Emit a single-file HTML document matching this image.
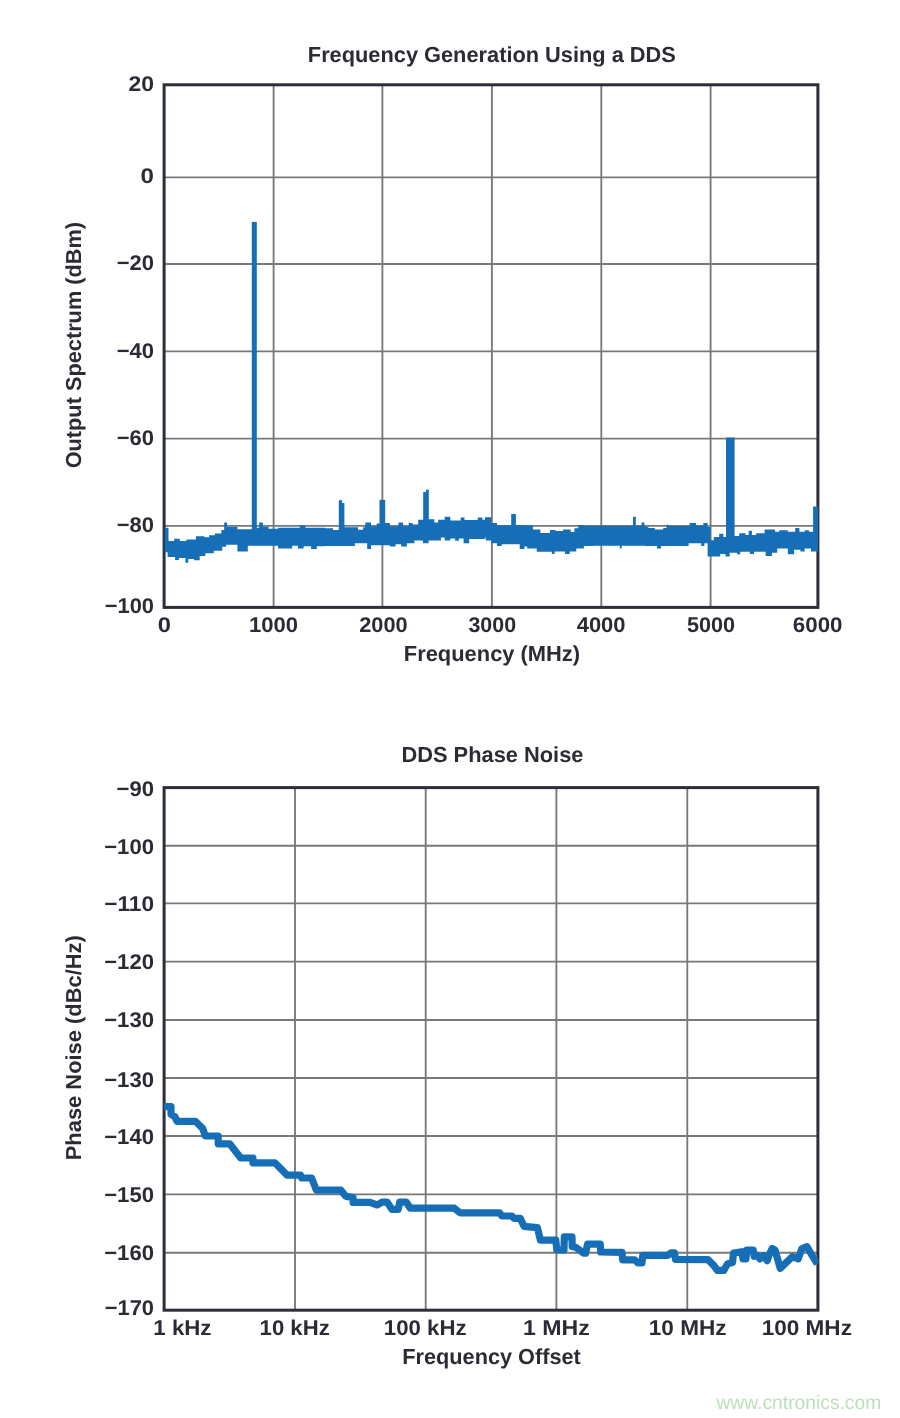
<!DOCTYPE html>
<html lang="en">
<head>
<meta charset="utf-8">
<title>DDS Frequency Generation and Phase Noise</title>
<style>
  html, body { margin: 0; padding: 0; background: #ffffff; }
  body { width: 900px; height: 1418px; overflow: hidden; }
  svg { display: block; }
  text { font-family: "Liberation Sans", sans-serif; font-weight: bold; fill: #2b2b36; text-rendering: geometricPrecision; }
  .tick text { font-size: 21.3px; }
  .title { font-size: 21.7px; }
  .axis { font-size: 21.7px; }
  .grid line { stroke: #787878; stroke-width: 1.85; }
  .frame rect { fill: none; stroke: #2e2e38; stroke-width: 3.0; }
  .wm { font-weight: normal; font-size: 19.5px; fill: #bcdfb9; }
</style>
</head>
<body>
<svg width="900" height="1418" viewBox="0 0 900 1418">
<rect x="0" y="0" width="900" height="1418" fill="#ffffff"/>
<defs>
<clipPath id="clipT"><rect x="164.0" y="86" width="654.5" height="520"/></clipPath>
<clipPath id="clipB"><rect x="164.0" y="789" width="654.5" height="520"/></clipPath>
</defs>

<!-- ===== Chart 1: Frequency Generation Using a DDS ===== -->
<text class="title" x="307.84" y="61.60" textLength="368.01" lengthAdjust="spacingAndGlyphs">Frequency Generation Using a DDS</text>
<g class="grid">
<line x1="273.6" y1="84.8" x2="273.6" y2="607.4"/>
<line x1="382.4" y1="84.8" x2="382.4" y2="607.4"/>
<line x1="491.9" y1="84.8" x2="491.9" y2="607.4"/>
<line x1="601.3" y1="84.8" x2="601.3" y2="607.4"/>
<line x1="710.6" y1="84.8" x2="710.6" y2="607.4"/>
<line x1="164.1" y1="177.3" x2="817.9" y2="177.3"/>
<line x1="164.1" y1="264.0" x2="817.9" y2="264.0"/>
<line x1="164.1" y1="351.3" x2="817.9" y2="351.3"/>
<line x1="164.1" y1="438.6" x2="817.9" y2="438.6"/>
<line x1="164.1" y1="525.9" x2="817.9" y2="525.9"/>
</g>
<g class="frame"><rect x="164.1" y="84.8" width="653.8" height="522.6"/></g>
<g fill="#166fb6" clip-path="url(#clipT)">
<path d="M164.7 527.8 L168.5 527.8 L168.5 541.0 L174.2 541.0 L174.2 538.7 L179.8 538.7 L179.8 541.0 L186.4 541.0 L186.4 539.5 L195.9 539.5 L195.9 536.3 L204.4 536.3 L204.4 537.2 L209.1 537.2 L209.1 535.3 L214.8 535.3 L214.8 533.4 L221.4 533.4 L221.4 530.0 L224.2 530.0 L224.2 522.5 L227.1 522.5 L227.1 526.8 L237.4 526.8 L237.4 529.3 L256.7 529.3 L256.7 527.8 L259.2 527.8 L259.2 522.5 L262.9 522.5 L262.9 526.8 L268.6 526.8 L268.6 528.7 L278.1 528.7 L278.1 527.8 L299.8 527.8 L299.8 525.5 L305.4 525.5 L305.4 527.8 L324.9 527.8 L324.9 528.2 L333.0 528.2 L333.0 530.1 L338.9 530.1 L338.9 527.2 L358.0 527.2 L358.0 529.7 L363.1 529.7 L363.1 527.2 L365.3 527.2 L365.3 522.5 L371.0 522.5 L371.0 526.3 L376.7 526.3 L376.7 523.4 L385.2 523.4 L385.2 523.1 L389.9 523.1 L389.9 526.3 L398.4 526.3 L398.4 522.5 L403.1 522.5 L403.1 526.3 L408.8 526.3 L408.8 523.1 L412.6 523.1 L412.6 524.4 L418.2 524.4 L418.2 519.7 L428.6 519.7 L428.6 519.3 L434.3 519.3 L434.3 522.5 L438.1 522.5 L438.1 519.7 L444.7 519.7 L444.7 516.8 L450.3 516.8 L450.3 520.6 L460.7 520.6 L460.7 517.4 L464.5 517.4 L464.5 520.0 L477.7 520.0 L477.7 517.4 L482.4 517.4 L482.4 519.7 L484.9 519.7 L484.9 517.2 L491.3 517.2 L491.3 523.1 L497.0 523.1 L497.0 525.3 L532.9 525.3 L532.9 529.5 L540.4 529.5 L540.4 532.9 L549.9 532.9 L549.9 530.1 L555.6 530.1 L555.6 531.0 L563.1 531.0 L563.1 529.5 L570.7 529.5 L570.7 531.9 L574.4 531.9 L574.4 528.2 L578.2 528.2 L578.2 525.0 L583.9 525.0 L583.9 525.7 L641.5 525.7 L641.5 522.5 L644.3 522.5 L644.3 525.3 L644.9 525.3 L645.1 526.4 L648.4 526.4 L648.4 528.1 L654.8 528.1 L654.8 529.6 L663.2 529.6 L663.2 528.1 L666.4 528.1 L666.4 524.8 L668.5 524.8 L668.5 526.0 L689.6 526.0 L689.6 522.9 L695.9 522.9 L695.9 525.4 L703.3 525.4 L703.3 522.9 L707.6 522.9 L707.6 526.9 L710.7 526.9 L710.7 540.2 L713.9 540.2 L713.9 537.0 L719.2 537.0 L719.2 533.8 L723.4 533.8 L723.4 537.0 L733.9 537.0 L733.9 535.9 L739.2 535.9 L739.2 533.2 L745.6 533.2 L745.6 534.9 L748.7 534.9 L748.7 530.7 L751.9 530.7 L751.9 534.9 L756.1 534.9 L756.1 533.2 L764.6 533.2 L764.6 529.6 L775.1 529.6 L775.1 531.7 L779.3 531.7 L779.3 530.2 L787.8 530.2 L787.8 531.7 L795.2 531.7 L795.2 528.1 L799.4 528.1 L799.4 531.7 L804.7 531.7 L804.7 530.2 L808.9 530.2 L808.9 531.7 L813.1 531.7 L813.1 506.4 L818.4 506.4 L818.4 551.4 L811.0 551.4 L811.0 548.6 L804.7 548.6 L804.7 551.4 L800.4 551.4 L800.4 549.7 L794.1 549.7 L794.1 554.3 L787.8 554.3 L787.8 548.6 L777.2 548.6 L777.2 552.8 L771.9 552.8 L771.9 556.0 L765.6 556.0 L765.6 551.8 L754.0 551.8 L754.0 553.9 L749.8 553.9 L749.8 551.8 L740.3 551.8 L740.3 554.3 L737.1 554.3 L737.1 552.8 L729.7 552.8 L729.7 556.4 L725.5 556.4 L725.5 553.9 L720.2 553.9 L720.2 556.4 L707.6 556.4 L707.6 543.3 L704.4 543.3 L704.4 545.9 L701.2 545.9 L701.2 543.3 L688.6 543.3 L688.6 545.9 L661.1 545.9 L661.1 548.6 L656.9 548.6 L656.9 545.9 L645.1 545.9 L644.9 545.7 L621.7 545.7 L621.7 548.4 L619.8 548.4 L619.8 545.7 L593.3 545.7 L593.3 546.1 L583.9 546.1 L583.9 548.4 L576.3 548.4 L576.3 551.4 L569.7 551.4 L569.7 554.0 L565.0 554.0 L565.0 551.4 L554.6 551.4 L554.6 554.0 L551.8 554.0 L551.8 551.8 L536.7 551.8 L536.7 548.4 L527.2 548.4 L527.2 546.5 L524.4 546.5 L524.4 548.9 L519.7 548.9 L519.7 544.2 L501.7 544.2 L501.7 546.1 L497.0 546.1 L497.0 543.3 L491.3 543.3 L491.3 540.4 L485.7 540.4 L485.7 537.6 L484.9 537.6 L484.9 538.9 L469.2 538.9 L469.2 543.3 L463.6 543.3 L463.6 538.6 L458.8 538.6 L458.8 540.8 L455.1 540.8 L455.1 538.6 L450.3 538.6 L450.3 540.4 L444.7 540.4 L444.7 537.6 L440.9 537.6 L440.9 540.4 L428.6 540.4 L428.6 543.3 L422.9 543.3 L422.9 540.4 L414.4 540.4 L414.4 543.3 L406.9 543.3 L406.9 546.5 L401.2 546.5 L401.2 544.2 L395.6 544.2 L395.6 546.5 L389.9 546.5 L389.9 545.2 L371.0 545.2 L371.0 548.9 L367.2 548.9 L367.2 543.3 L354.9 543.3 L354.9 546.1 L324.9 546.1 L324.9 546.3 L316.8 546.3 L316.8 548.9 L311.1 548.9 L311.1 546.3 L303.6 546.3 L303.6 548.6 L297.9 548.6 L297.9 545.7 L292.2 545.7 L292.2 548.6 L278.1 548.6 L278.1 545.7 L247.8 545.7 L247.8 551.4 L237.4 551.4 L237.4 544.8 L226.1 544.8 L226.1 546.7 L222.3 546.7 L222.3 550.8 L213.8 550.8 L213.8 553.3 L205.3 553.3 L205.3 556.1 L199.7 556.1 L199.7 560.3 L194.0 560.3 L194.0 558.9 L188.3 558.9 L188.3 562.7 L185.5 562.7 L185.5 558.0 L178.9 558.0 L178.9 559.9 L175.1 559.9 L175.1 557.1 L167.6 557.1 L167.6 552.3 L164.7 552.3 Z"/>
<rect x="251.8" y="221.9" width="5.0" height="318.1"/>
<rect x="338.8" y="500.2" width="3.2" height="39.8"/>
<rect x="342.0" y="503.0" width="2.4" height="37.0"/>
<rect x="379.5" y="499.8" width="5.7" height="40.2"/>
<rect x="423.2" y="492.0" width="2.8" height="48.0"/>
<rect x="426.0" y="489.6" width="2.8" height="50.4"/>
<rect x="511.2" y="514.0" width="4.7" height="26.0"/>
<rect x="633.0" y="516.8" width="2.8" height="23.2"/>
<rect x="726.0" y="437.5" width="8.6" height="102.5"/>
</g>
<g class="tick">
<text x="128.50" y="91.15" textLength="25.54" lengthAdjust="spacingAndGlyphs">20</text>
<text x="140.64" y="182.75" textLength="13.45" lengthAdjust="spacingAndGlyphs">0</text>
<text x="116.69" y="270.25" textLength="37.32" lengthAdjust="spacingAndGlyphs">−20</text>
<text x="116.69" y="358.25" textLength="37.32" lengthAdjust="spacingAndGlyphs">−40</text>
<text x="116.69" y="445.05" textLength="37.32" lengthAdjust="spacingAndGlyphs">−60</text>
<text x="116.69" y="532.15" textLength="37.32" lengthAdjust="spacingAndGlyphs">−80</text>
<text x="104.69" y="612.65" textLength="49.31" lengthAdjust="spacingAndGlyphs">−100</text>
<text x="157.76" y="631.70" textLength="13.21" lengthAdjust="spacingAndGlyphs">0</text>
<text x="249.01" y="631.70" textLength="49.10" lengthAdjust="spacingAndGlyphs">1000</text>
<text x="359.24" y="631.70" textLength="48.45" lengthAdjust="spacingAndGlyphs">2000</text>
<text x="468.41" y="631.70" textLength="47.67" lengthAdjust="spacingAndGlyphs">3000</text>
<text x="576.67" y="631.70" textLength="48.94" lengthAdjust="spacingAndGlyphs">4000</text>
<text x="687.03" y="631.70" textLength="48.15" lengthAdjust="spacingAndGlyphs">5000</text>
<text x="792.78" y="631.70" textLength="49.74" lengthAdjust="spacingAndGlyphs">6000</text>
</g>
<text class="axis" x="403.84" y="660.70" textLength="176.25" lengthAdjust="spacingAndGlyphs">Frequency (MHz)</text>
<text class="axis" transform="translate(80.90 467.50) rotate(-90)" x="-0.89" y="0" textLength="246.48" lengthAdjust="spacingAndGlyphs">Output Spectrum (dBm)</text>

<!-- ===== Chart 2: DDS Phase Noise ===== -->
<text class="title" x="401.44" y="761.70" textLength="182.01" lengthAdjust="spacingAndGlyphs">DDS Phase Noise</text>
<g class="grid">
<line x1="295.0" y1="787.6" x2="295.0" y2="1310.2"/>
<line x1="425.7" y1="787.6" x2="425.7" y2="1310.2"/>
<line x1="556.4" y1="787.6" x2="556.4" y2="1310.2"/>
<line x1="687.3" y1="787.6" x2="687.3" y2="1310.2"/>
<line x1="164.1" y1="845.7" x2="817.9" y2="845.7"/>
<line x1="164.1" y1="903.3" x2="817.9" y2="903.3"/>
<line x1="164.1" y1="961.6" x2="817.9" y2="961.6"/>
<line x1="164.1" y1="1020.0" x2="817.9" y2="1020.0"/>
<line x1="164.1" y1="1078.0" x2="817.9" y2="1078.0"/>
<line x1="164.1" y1="1136.0" x2="817.9" y2="1136.0"/>
<line x1="164.1" y1="1194.4" x2="817.9" y2="1194.4"/>
<line x1="164.1" y1="1252.7" x2="817.9" y2="1252.7"/>
</g>
<g class="frame"><rect x="164.1" y="787.6" width="653.8" height="522.6"/></g>
<path d="M162.0 1106.6 L171.0 1106.6 L171.0 1114.4 L174.7 1116.4 L177.1 1121.3 L195.4 1121.3 L202.8 1128.6 L205.2 1136.0 L218.2 1136.0 L218.2 1143.8 L229.7 1143.8 L240.7 1158.0 L252.9 1158.0 L252.9 1162.8 L274.9 1162.8 L287.1 1175.1 L300.6 1175.1 L301.8 1178.0 L311.6 1178.0 L316.4 1190.2 L340.9 1190.2 L345.8 1196.3 L353.1 1197.6 L353.1 1202.4 L370.0 1202.4 L377.3 1205.0 L382.2 1202.1 L387.1 1202.1 L392.0 1209.4 L398.1 1209.4 L399.8 1202.1 L406.2 1202.1 L410.3 1208.2 L454.3 1208.2 L460.0 1212.8 L499.6 1212.8 L502.0 1216.0 L511.8 1216.0 L514.2 1218.4 L520.3 1218.4 L524.0 1226.3 L537.4 1227.7 L540.4 1240.2 L555.8 1240.2 L556.8 1250.0 L564.0 1250.0 L564.3 1236.9 L572.0 1236.9 L572.2 1246.6 L576.2 1247.5 L583.6 1253.1 L585.6 1253.1 L587.6 1244.2 L600.2 1244.2 L600.7 1252.0 L621.9 1252.4 L622.7 1259.8 L634.7 1259.8 L638.0 1263.0 L642.0 1263.0 L642.8 1255.3 L667.8 1255.3 L671.0 1252.9 L674.5 1252.9 L675.5 1259.4 L707.9 1259.6 L713.7 1265.4 L717.3 1270.4 L723.8 1270.4 L727.4 1263.9 L732.5 1262.5 L733.5 1253.1 L741.9 1251.7 L743.0 1258.9 L745.9 1258.9 L746.9 1250.2 L753.2 1250.2 L754.2 1256.3 L757.8 1255.4 L759.9 1258.9 L763.6 1255.7 L767.2 1260.6 L769.3 1254.6 L772.2 1248.5 L775.1 1250.2 L780.2 1268.3 L792.4 1256.7 L798.2 1258.9 L801.8 1248.8 L806.9 1246.6 L809.8 1251.7 L817.3 1263.9" fill="none" stroke="#166fb6" stroke-width="7.2" stroke-linejoin="round" stroke-linecap="butt" clip-path="url(#clipB)"/>
<g class="tick">
<text x="116.48" y="795.55" textLength="37.53" lengthAdjust="spacingAndGlyphs">−90</text>
<text x="104.18" y="854.15" textLength="49.83" lengthAdjust="spacingAndGlyphs">−100</text>
<text x="104.18" y="911.25" textLength="49.83" lengthAdjust="spacingAndGlyphs">−110</text>
<text x="104.18" y="968.65" textLength="49.83" lengthAdjust="spacingAndGlyphs">−120</text>
<text x="104.18" y="1027.45" textLength="49.83" lengthAdjust="spacingAndGlyphs">−130</text>
<text x="104.18" y="1086.95" textLength="49.83" lengthAdjust="spacingAndGlyphs">−130</text>
<text x="104.18" y="1144.15" textLength="49.83" lengthAdjust="spacingAndGlyphs">−140</text>
<text x="104.18" y="1202.15" textLength="49.83" lengthAdjust="spacingAndGlyphs">−150</text>
<text x="104.18" y="1260.15" textLength="49.83" lengthAdjust="spacingAndGlyphs">−160</text>
<text x="104.69" y="1314.75" textLength="49.31" lengthAdjust="spacingAndGlyphs">−170</text>
<text x="153.30" y="1334.80" textLength="58.21" lengthAdjust="spacingAndGlyphs">1 kHz</text>
<text x="259.61" y="1334.80" textLength="70.09" lengthAdjust="spacingAndGlyphs">10 kHz</text>
<text x="383.80" y="1334.80" textLength="82.80" lengthAdjust="spacingAndGlyphs">100 kHz</text>
<text x="522.94" y="1334.80" textLength="66.79" lengthAdjust="spacingAndGlyphs">1 MHz</text>
<text x="648.78" y="1334.80" textLength="77.84" lengthAdjust="spacingAndGlyphs">10 MHz</text>
<text x="761.68" y="1334.80" textLength="90.24" lengthAdjust="spacingAndGlyphs">100 MHz</text>
</g>
<text class="axis" x="402.25" y="1363.60" textLength="178.62" lengthAdjust="spacingAndGlyphs">Frequency Offset</text>
<text class="axis" transform="translate(80.90 1158.80) rotate(-90)" x="-1.46" y="0" textLength="225.05" lengthAdjust="spacingAndGlyphs">Phase Noise (dBc/Hz)</text>

<text class="wm" x="716.43" y="1409.40" textLength="164.83" lengthAdjust="spacingAndGlyphs">www.cntronics.com</text>
</svg>
</body>
</html>
